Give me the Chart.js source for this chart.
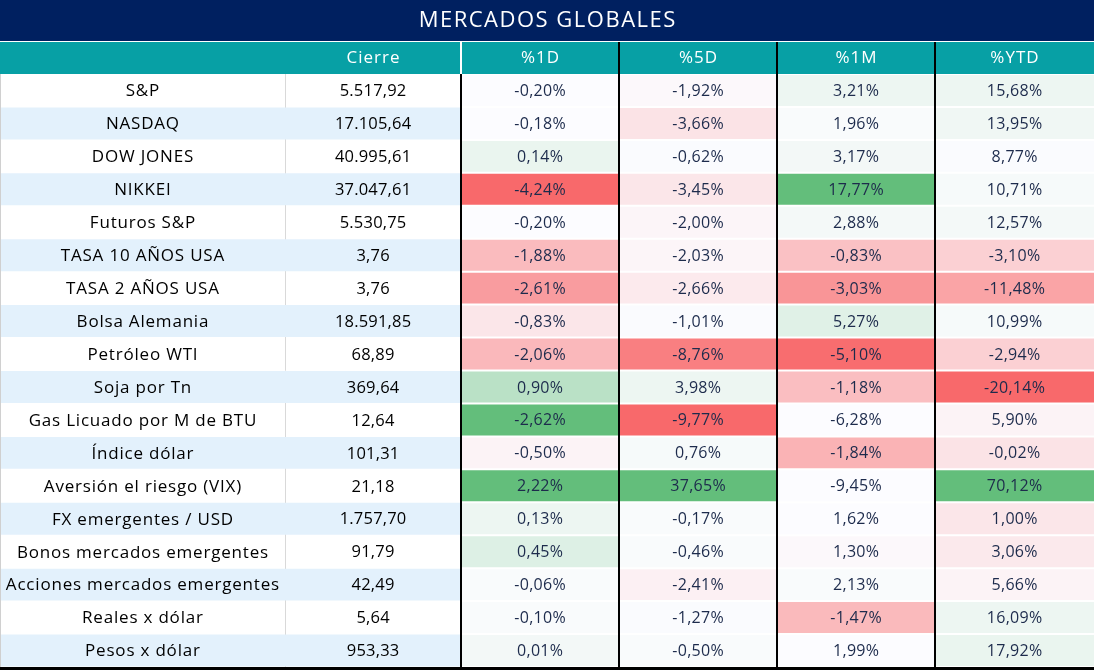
<!DOCTYPE html>
<html>
<head>
<meta charset="utf-8">
<script src="https://cdn.jsdelivr.net/npm/chart.js@4.4.1/dist/chart.umd.min.js"></script>
<style>
  html, body { margin: 0; padding: 0; background: #fff; }
  #wrap { width: 1094px; height: 670px; }
</style>
</head>
<body>
<div id="wrap"><canvas id="tabla" width="1094" height="670"></canvas></div>
<script>
// --- datos ---
const titulo = 'MERCADOS GLOBALES';
const encabezados = ['', 'Cierre', '%1D', '%5D', '%1M', '%YTD'];

const activos = [
    'S&P', 'NASDAQ', 'DOW JONES', 'NIKKEI', 'Futuros S&P', 'TASA 10 AÑOS USA',
    'TASA 2 AÑOS USA', 'Bolsa Alemania', 'Petróleo WTI', 'Soja por Tn',
    'Gas Licuado por M de BTU', 'Índice dólar', 'Aversión el riesgo (VIX)',
    'FX emergentes / USD', 'Bonos mercados emergentes', 'Acciones mercados emergentes',
    'Reales x dólar', 'Pesos x dólar'
];
const cierre = [5517.92, 17105.64, 40995.61, 37047.61, 5530.75, 3.76, 3.76, 18591.85, 68.89,
    369.64, 12.64, 101.31, 21.18, 1757.70, 91.79, 42.49, 5.64, 953.33];

const var1D = [-0.20, -0.18, 0.14, -4.24, -0.20, -1.88, -2.61, -0.83, -2.06, 0.90, -2.62, -0.50,
    2.22, 0.13, 0.45, -0.06, -0.10, 0.01];
const var5D = [-1.92, -3.66, -0.62, -3.45, -2.00, -2.03, -2.66, -1.01, -8.76, 3.98, -9.77, 0.76,
    37.65, -0.17, -0.46, -2.41, -1.27, -0.50];
const var1M = [3.21, 1.96, 3.17, 17.77, 2.88, -0.83, -3.03, 5.27, -5.10, -1.18, -6.28, -1.84,
    -9.45, 1.62, 1.30, 2.13, -1.47, 1.99];
const varYTD = [15.68, 13.95, 8.77, 10.71, 12.57, -3.10, -11.48, 10.99, -2.94, -20.14, 5.90, -0.02,
    70.12, 1.00, 3.06, 5.66, 16.09, 17.92];

// intensidad del formato condicional (-1 rojo pleno, +1 verde pleno)
const heat1D = [0, 0, 0.12, -1, 0, -0.44, -0.65, -0.15, -0.46, 0.43, 1, -0.06,
    1, 0.1, 0.2, 0.02, 0.02, 0.06];
const heat5D = [-0.03, -0.17, 0.01, -0.15, -0.05, -0.05, -0.12, 0.01, -0.85, 0.1, -1, 0.04,
    1, 0.02, 0.02, -0.08, 0.01, 0.02];
const heat1M = [0.1, 0.02, 0.06, 1, 0.05, -0.4, -0.7, 0.18, -0.97, -0.42, 0, -0.5,
    0, 0, -0.03, 0.02, -0.45, 0];
const heatYTD = [0.1, 0.08, 0.01, 0.04, 0.05, -0.3, -0.6, 0.04, -0.3, -1, -0.06, -0.17,
    1, -0.15, -0.13, -0.06, 0.1, 0.12];

// bordes de columna en unidades del eje x
const bordes = [0, 285, 461, 619, 777, 935, 1094];

// --- colores ---
const NAVY = '#002060';
const TEAL = '#07A0A5';
const CELESTE = '#E3F1FC';
const FUENTE = '"Open Sans", Lato, sans-serif';

function mezcla(a, b, t) {
    return a.map((v, i) => Math.round(v + (b[i] - v) * t));
}
function colorHeat(h) {
    const mid = [252, 252, 255], rojo = [248, 105, 107], verde = [99, 190, 123];
    const c = h < 0 ? mezcla(mid, rojo, -h) : mezcla(mid, verde, h);
    return `rgb(${c[0]},${c[1]},${c[2]})`;
}
function fmtNum(v) {
    const [ent, dec] = v.toFixed(2).split('.');
    return ent.replace(/\B(?=(\d{3})+(?!\d))/g, '.') + ',' + dec;
}
function fmtPct(v) {
    return v.toFixed(2).replace('.', ',') + '%';
}

const columnasPct = [var1D, var5D, var1M, varYTD];
const heats = [heat1D, heat5D, heat1M, heatYTD];

// fondo de las dos primeras columnas (filas alternas celestes)
const datasets = [{
    data: activos.map(() => [bordes[0], bordes[2]]),
    backgroundColor: activos.map((_, i) => i % 2 === 1 ? CELESTE : 'rgba(0,0,0,0)'),
    barPercentage: 0.97,
    categoryPercentage: 1,
    grouped: false,
}];
heats.forEach((h, c) => {
    datasets.push({
        data: activos.map(() => [bordes[c + 2], bordes[c + 3]]),
        backgroundColor: h.map(colorHeat),
        barPercentage: 0.94,
        categoryPercentage: 1,
        grouped: false,
    });
});

function texto(ctx, t, cx, cy, font, color, espacio) {
    ctx.font = font;
    ctx.fillStyle = color;
    ctx.letterSpacing = espacio + 'px';
    // con letterSpacing el ancho incluye un espacio final: se compensa
    ctx.fillText(t, cx + espacio / 2, cy);
}

const tablaPlugin = {
    id: 'tabla',
    beforeDatasetsDraw(chart) {
        const { ctx, chartArea, scales: { x } } = chart;
        ctx.save();
        // linea gris entre activo y cierre
        ctx.strokeStyle = '#D9D9D9';
        ctx.lineWidth = 1;
        ctx.beginPath();
        ctx.moveTo(Math.round(x.getPixelForValue(bordes[1])) + 0.5, chartArea.top);
        ctx.lineTo(Math.round(x.getPixelForValue(bordes[1])) + 0.5, chartArea.bottom);
        ctx.stroke();
        ctx.restore();
    },
    afterDatasetsDraw(chart) {
        const { ctx, chartArea, scales: { x, y } } = chart;
        const W = chart.width;
        ctx.save();
        ctx.textAlign = 'center';
        ctx.textBaseline = 'middle';
        // titulo
        ctx.fillStyle = NAVY;
        ctx.fillRect(0, 0, W, 41);
        texto(ctx, titulo, W / 2, 21, `22px ${FUENTE}`, '#fff', 1.5);
        // encabezado
        ctx.fillStyle = TEAL;
        ctx.fillRect(0, 42, W, 32);
        encabezados.forEach((t, c) => {
            if (!t) return;
            const cx = (x.getPixelForValue(bordes[c]) + x.getPixelForValue(bordes[c + 1])) / 2;
            texto(ctx, t, cx, 58, `17px ${FUENTE}`, '#fff', 1);
        });
        ctx.fillStyle = '#fff';
        ctx.fillRect(Math.round(x.getPixelForValue(bordes[2])) - 1, 42, 2, 32);

        // separadores negros
        ctx.fillStyle = '#000';
        for (let c = 2; c <= 5; c++) {
            const px = Math.round(x.getPixelForValue(bordes[c]));
            const top = c === 2 ? chartArea.top : 42;
            ctx.fillRect(px - 1, top, 2, chartArea.bottom - top);
        }
        // borde inferior e izquierdo
        ctx.fillRect(0, chartArea.bottom, W, 3);
        ctx.fillStyle = '#D0D0D0';
        ctx.fillRect(0, chartArea.top, 1, chartArea.bottom - chartArea.top);

        // textos
        activos.forEach((nombre, i) => {
            const py = y.getPixelForValue(i) + 1;
            texto(ctx, nombre, (x.getPixelForValue(bordes[0]) + x.getPixelForValue(bordes[1])) / 2, py,
                `17px ${FUENTE}`, '#000', 0.8);
            texto(ctx, fmtNum(cierre[i]), (x.getPixelForValue(bordes[1]) + x.getPixelForValue(bordes[2])) / 2, py,
                `500 16.5px ${FUENTE}`, '#000', 0.2);
            columnasPct.forEach((col, c) => {
                const cx = (x.getPixelForValue(bordes[c + 2]) + x.getPixelForValue(bordes[c + 3])) / 2;
                texto(ctx, fmtPct(col[i]), cx, py, `16px ${FUENTE}`, '#1D2B4C', 0.3);
            });
        });
        ctx.restore();
    }
};

new Chart(document.getElementById('tabla').getContext('2d'), {
    type: 'bar',
    data: { labels: activos, datasets: datasets },
    options: {
        indexAxis: 'y',
        responsive: false,
        devicePixelRatio: 1,
        animation: false,
        layout: { padding: { top: 74, bottom: 3, left: 0, right: 0 } },
        plugins: { legend: { display: false }, tooltip: { enabled: false }, title: { display: false } },
        scales: {
            x: { type: 'linear', min: bordes[0], max: bordes[bordes.length - 1], display: false },
            y: { type: 'category', display: false, offset: true }
        }
    },
    plugins: [tablaPlugin]
});
</script>
</body>
</html>
